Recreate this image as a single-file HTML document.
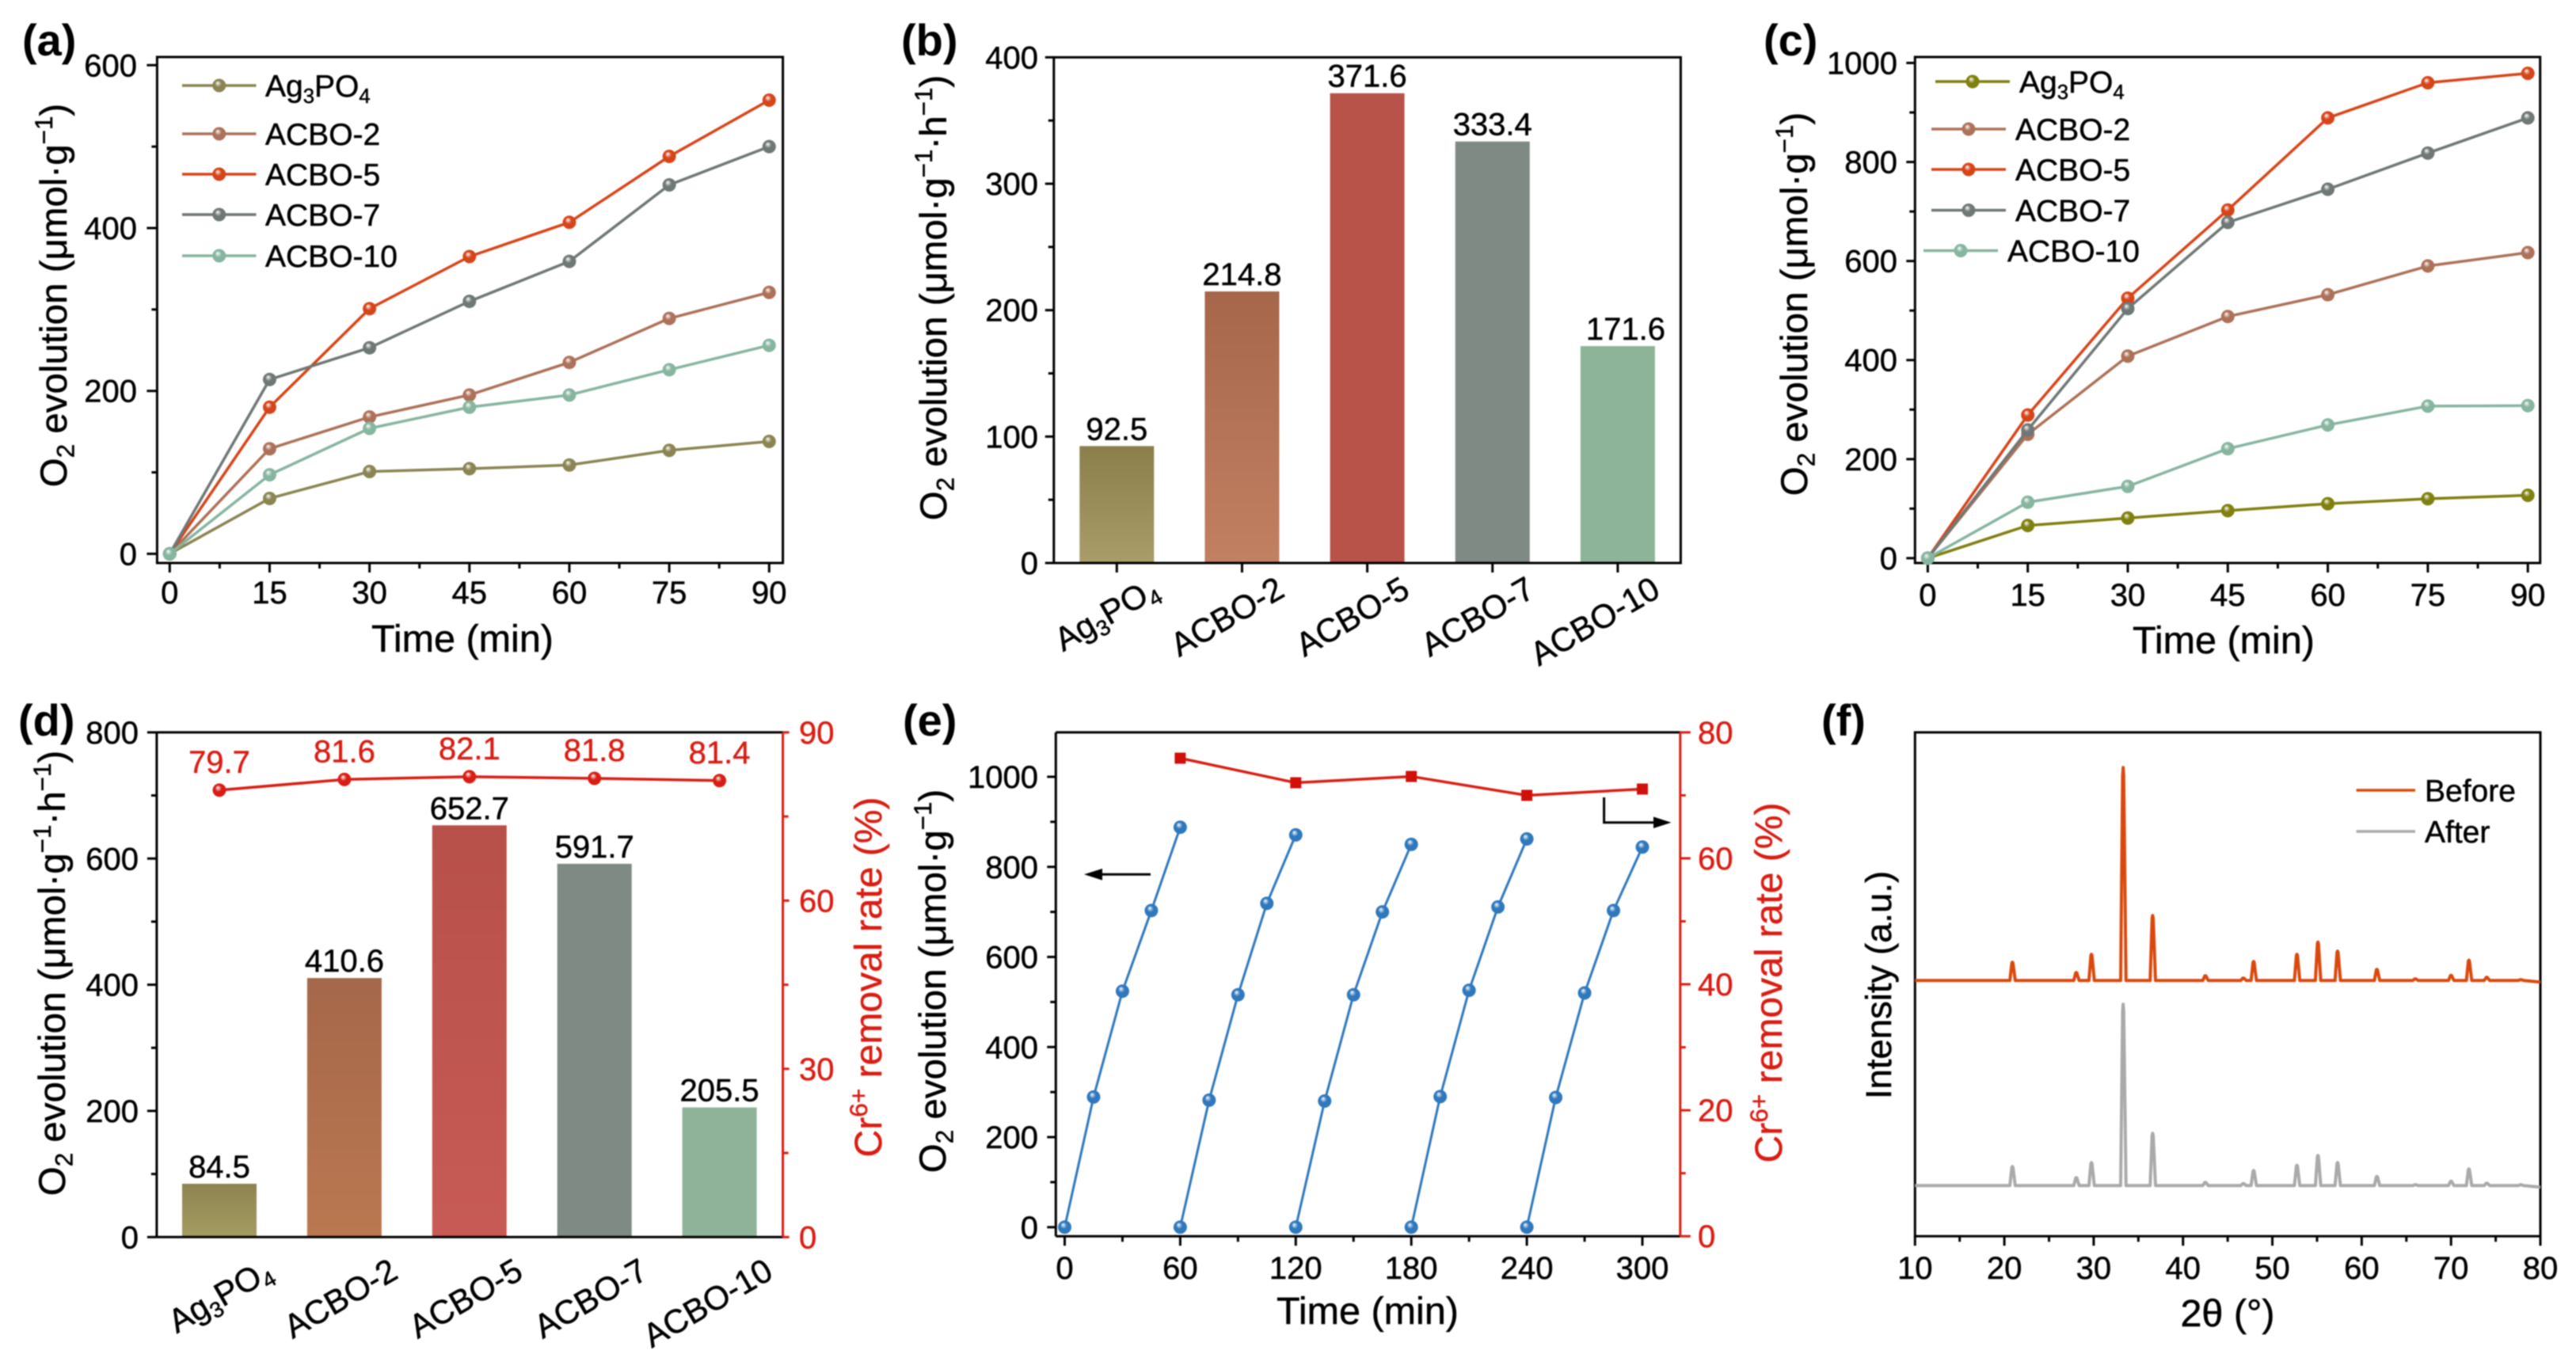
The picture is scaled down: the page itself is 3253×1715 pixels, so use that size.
<!DOCTYPE html>
<html lang="en">
<head>
<meta charset="utf-8">
<title>O2 evolution and Cr6+ removal charts</title>
<style>
html,body{margin:0;padding:0;background:#fff;}
svg{display:block;font-family:"Liberation Sans",Arial,sans-serif;filter:blur(0.7px);}
</style>
</head>
<body>
<svg id="fig" xmlns="http://www.w3.org/2000/svg" width="3253" height="1715" viewBox="0 0 3253 1715">
<rect x="0" y="0" width="3253" height="1715" fill="#ffffff"></rect>
<defs id="defs"></defs>
</svg>
<script>
// ---------- Shared data ----------
const categories = ['Ag3PO4', 'ACBO-2', 'ACBO-5', 'ACBO-7', 'ACBO-10'];
const timeMin = [0, 15, 30, 45, 60, 75, 90];

// Panel (a)
const aAg = [0, 68, 101, 104.5, 109, 127, 138];
const aB2 = [0, 129, 168, 195, 235, 289, 321];
const aB5 = [0, 180, 301, 365, 407, 488, 557];
const aB7 = [0, 214, 253, 310, 359, 453, 500];
const aB10 = [0, 97, 154, 180, 195, 226, 256];
const aYMajor = [0, 200, 400, 600];
const aYMinor = [100, 300, 500];
const timeMajor = [0, 15, 30, 45, 60, 75, 90];
const timeMinor = [7.5, 22.5, 37.5, 52.5, 67.5, 82.5];

// Panel (b)
const bValues = [92.5, 214.8, 371.6, 333.4, 171.6];
const bYMajor = [0, 100, 200, 300, 400];
const bYMinor = [50, 150, 250, 350];

// Panel (c)
const cAg = [0, 66, 81, 96, 110, 120, 127];
const cB2 = [0, 250, 408, 488, 532, 590, 617];
const cB5 = [0, 289, 525, 703, 889, 960, 979];
const cB7 = [0, 259, 504, 678, 745, 818, 889];
const cB10 = [0, 113, 145, 221, 269, 307, 308];
const cYMajor = [0, 200, 400, 600, 800, 1000];
const cYMinor = [100, 300, 500, 700, 900];

// Panel (d)
const dValues = [84.5, 410.6, 652.7, 591.7, 205.5];
const dRemoval = [79.7, 81.6, 82.1, 81.8, 81.4];
const dYMajor = [0, 200, 400, 600, 800];
const dYMinor = [100, 300, 500, 700];
const dRMajor = [0, 30, 60, 90];
const dRMinor = [15, 45, 75];

// Panel (e)
const eCycleTimes = [0, 15, 30, 45, 60];
const eCycleStarts = [0, 60, 120, 180, 240];
const eCycle1 = [0, 289, 524, 703, 888];
const eCycle2 = [0, 282, 516, 719, 871];
const eCycle3 = [0, 280, 516, 700, 850];
const eCycle4 = [0, 290, 526, 711, 862];
const eCycle5 = [0, 288, 520, 703, 844];
const eRemovalTimes = [60, 120, 180, 240, 300];
const eRemoval = [75.9, 72, 73, 70, 71];
const eYMajor = [0, 200, 400, 600, 800, 1000];
const eYMinor = [100, 300, 500, 700, 900];
const eRMajor = [0, 20, 40, 60, 80];
const eRMinor = [10, 30, 50, 70];
const eXMajor = [0, 60, 120, 180, 240, 300];
const eXMinor = [30, 90, 150, 210, 270];

// Panel (f)
const xrdPeaks = [20.9, 28.05, 29.75, 33.3, 36.6, 42.5, 46.75, 47.9, 52.75, 55.1, 57.3, 61.7, 66, 70, 72, 74, 77.8];
const xrdBeforeHeights = [23, 10, 33, 269, 82, 6, 3, 24, 33, 48.5, 37, 14, 2, 6.5, 25.6, 4, 1];
const xrdAfterHeights = [24, 10, 29, 229, 66, 4, 2.5, 19, 25.6, 38, 29, 11.5, 1, 5.5, 21, 3, 1];
const xrdBeforeBase = 323;
const xrdAfterBase = 64;
const fXMajor = [10, 20, 30, 40, 50, 60, 70, 80];
const fXMinor = [15, 25, 35, 45, 55, 65, 75];

// ---------- Helpers ----------
const NS = 'http://www.w3.org/2000/svg';
const svg = document.getElementById('fig');
const defs = document.getElementById('defs');

function mk(tag, attrs, name, parent) {
  const el = document.createElementNS(NS, tag);
  for (const k in attrs) el.setAttribute(k, attrs[k]);
  
  
  (parent || svg).appendChild(el);
  return el;
}
function linear(d0, d1, r0, r1) {
  return function (v) { return r0 + (v - d0) * (r1 - r0) / (d1 - d0); };
}
function rich(parts, attrs, name, parent) {
  const fs = attrs['font-size'];
  attrs.stroke = attrs.fill;
  attrs['stroke-width'] = 0.5;
  const t = mk('text', attrs, name, parent);
  let offset = 0;
  parts.forEach(function (p) {
    const s = document.createElementNS(NS, 'tspan');
    let target = 0;
    if (Array.isArray(p)) {
      s.textContent = p[0];
      s.setAttribute('font-size', fs * 0.66);
      target = p[1] === 'sub' ? fs * 0.2 : -fs * 0.38;
    } else {
      s.textContent = p;
    }
    s.setAttribute('dy', target - offset);
    offset = target;
    t.appendChild(s);
  });
  return t;
}
function chem(s) {
  return s === 'Ag3PO4' ? ['Ag', ['3', 'sub'], 'PO', ['4', 'sub']] : [s];
}
let gradCount = 0;
function sphereGrad(color) {
  const id = 'sph' + (gradCount++);
  const g = mk('radialGradient', { id: id, cx: '0.5', cy: '0.5', r: '0.6', fx: '0.38', fy: '0.3' }, 'marker-gradient', defs);
  mk('stop', { offset: '0', 'stop-color': '#ffffff', 'stop-opacity': '0.9' }, 'gradient-stop', g);
  mk('stop', { offset: '0.4', 'stop-color': color }, 'gradient-stop', g);
  mk('stop', { offset: '1', 'stop-color': color }, 'gradient-stop', g);
  return 'url(#' + id + ')';
}
function barGrad(top, bottom) {
  const id = 'bar' + (gradCount++);
  const g = mk('linearGradient', { id: id, x1: '0', y1: '0', x2: '0', y2: '1' }, 'bar-gradient', defs);
  mk('stop', { offset: '0', 'stop-color': top }, 'gradient-stop', g);
  mk('stop', { offset: '1', 'stop-color': bottom }, 'gradient-stop', g);
  return 'url(#' + id + ')';
}
function line(x1, y1, x2, y2, color, w, name, parent) {
  return mk('line', { x1: x1, y1: y1, x2: x2, y2: y2, stroke: color, 'stroke-width': w }, name, parent);
}
function label(txt, x, y, anchor, size, color, name, parent) {
  const t = mk('text', { x: x, y: y, 'text-anchor': anchor, 'font-size': size, fill: color, stroke: color, 'stroke-width': 0.5 }, name, parent);
  t.textContent = txt;
  return t;
}
function title(parts, x, y, rotated, color, name, parent, size) {
  const s = size || 47.5;
  const attrs = { x: x, y: y, 'text-anchor': 'middle', 'font-size': s, fill: color };
  if (rotated) attrs.transform = 'rotate(-90 ' + x + ' ' + y + ')';
  return rich(parts, attrs, name, parent);
}
function yTicks(scale, major, minor, xEdge, dir, len, labelX, color, g, side) {
  major.forEach(function (v) {
    line(xEdge, scale(v), xEdge + dir * len, scale(v), color, 3, side + '-major-tick', g);
    label(String(v), labelX, scale(v) + 14, dir < 0 ? 'end' : 'start', 40, color, side + '-tick-label', g);
  });
  minor.forEach(function (v) {
    line(xEdge, scale(v), xEdge + dir * 7, scale(v), color, 3, side + '-minor-tick', g);
  });
}
function xTicks(scale, major, minor, yEdge, labelY, g) {
  major.forEach(function (v) {
    line(scale(v), yEdge, scale(v), yEdge + 12, '#000', 3, 'x-major-tick', g);
    label(String(v), scale(v), labelY, 'middle', 40, '#000', 'x-tick-label', g);
  });
  minor.forEach(function (v) {
    line(scale(v), yEdge, scale(v), yEdge + 7, '#000', 3, 'x-minor-tick', g);
  });
}
function frame(x0, x1, y0, y1, g) {
  mk('rect', { x: x0, y: y0, width: x1 - x0, height: y1 - y0, fill: 'none', stroke: '#000', 'stroke-width': 3 }, 'plot-frame', g);
}
function series(xs, ys, sx, sy, color, name, g, w, r) {
  const pts = xs.map(function (x, i) { return sx(x) + ',' + sy(ys[i]); }).join(' ');
  mk('polyline', { points: pts, fill: 'none', stroke: color, 'stroke-width': w || 3.5, 'stroke-linejoin': 'round' }, name + '-line', g);
  const fill = sphereGrad(color);
  xs.forEach(function (x, i) {
    mk('circle', { cx: sx(x), cy: sy(ys[i]), r: r || 8.5, fill: fill }, name + '-point', g);
  });
}
function legendEntry(x0, x1, y, textX, parts, color, name, g, marker) {
  line(x0, y, x1, y, color, 3.5, name + '-legend-line', g);
  if (marker) mk('circle', { cx: (x0 + x1) / 2, cy: y, r: 8.5, fill: sphereGrad(color) }, name + '-legend-marker', g);
  rich(parts, { x: textX, y: y + 14, 'font-size': 39, fill: '#000' }, name + '-legend-label', g);
}
function panelLabel(txt, x, y) {
  const t = mk('text', { x: x, y: y, 'font-size': 56, 'font-weight': 'bold', fill: '#000' }, 'panel-label-' + txt.charAt(1), svg);
  t.textContent = txt;
}
function bars(values, center, width, sy, yBase, tops, bottoms, labelLift, g, lastLabelShift) {
  values.forEach(function (v, i) {
    const y = sy(v);
    mk('rect', { x: center(i) - width / 2, y: y, width: width, height: yBase - y, fill: barGrad(tops[i], bottoms[i]) }, 'bar-' + categories[i].toLowerCase(), g);
    const shift = i === values.length - 1 ? lastLabelShift : 0;
    label(v.toFixed(1), center(i) + shift, y - labelLift, 'middle', 40, '#000', 'bar-value-label', g);
  });
}
const O2H = ['O', ['2', 'sub'], ' evolution (\u03bcmol\u00b7g', ['\u22121', 'sup'], ')'];
const O2R = ['O', ['2', 'sub'], ' evolution (\u03bcmol\u00b7g', ['\u22121', 'sup'], '\u00b7h', ['\u22121', 'sup'], ')'];
const CR = ['Cr', ['6+', 'sup'], ' removal rate (%)'];
const RED = '#d81e14';

// ---------- Panel (a) ----------
(function () {
  const g = mk('g', {}, 'panel-a');
  const sx = linear(0, 90, 214.3, 971.3), sy = linear(0, 600, 699.4, 82.3);
  frame(198.4, 988.6, 72, 711, g);
  yTicks(sy, aYMajor, aYMinor, 198.4, -1, 13, 173, '#000', g, 'y');
  xTicks(sx, timeMajor, timeMinor, 711, 762, g);
  title(O2H, 84, 373, true, '#000', 'y-axis-title', g);
  title(['Time (min)'], 584, 823, false, '#000', 'x-axis-title', g, 48.5);
  const cols = ['#8a8553', '#ad7159', '#d6451a', '#6f7876', '#86b5a0'];
  series(timeMin, aAg, sx, sy, cols[0], 'ag3po4', g);
  series(timeMin, aB2, sx, sy, cols[1], 'acbo-2', g);
  series(timeMin, aB5, sx, sy, cols[2], 'acbo-5', g);
  series(timeMin, aB7, sx, sy, cols[3], 'acbo-7', g);
  series(timeMin, aB10, sx, sy, cols[4], 'acbo-10', g);
  const ly = [108, 169, 220, 271, 323];
  categories.forEach(function (c, i) {
    legendEntry(230, 323.5, ly[i], 335, chem(c), cols[i], c.toLowerCase(), g, true);
  });
})();
panelLabel('(a)', 28, 70);

// ---------- Panel (b) ----------
(function () {
  const g = mk('g', {}, 'panel-b');
  const sy = linear(0, 400, 711, 72.4);
  const center = function (i) { return 1410.3 + i * 158.15; };
  bars(bValues, center, 94, sy, 711,
    ['#8a7f4b', '#a5664a', '#b8534a', '#7f8a84', '#8db498'],
    ['#a89d68', '#c28062', '#b8534a', '#7f8a84', '#8db498'], 8, g, 10);
  frame(1330.8, 2122.4, 72.4, 711, g);
  yTicks(sy, bYMajor, bYMinor, 1330.8, -1, 11, 1311, '#000', g, 'y');
  categories.forEach(function (c, i) {
    line(center(i), 711, center(i), 723, '#000', 3, 'x-major-tick', g);
    const x = center(i) + 56, y = 752;
    rich(chem(c), { x: x, y: y, 'text-anchor': 'end', 'font-size': 42, fill: '#000', transform: 'rotate(-30 ' + x + ' ' + y + ')' }, 'x-tick-label', g);
  });
  title(O2R, 1195, 376, true, '#000', 'y-axis-title', g);
})();
panelLabel('(b)', 1138, 70);

// ---------- Panel (c) ----------
(function () {
  const g = mk('g', {}, 'panel-c');
  const sx = linear(0, 90, 2434.4, 3192.2), sy = linear(0, 1000, 704.9, 79.5);
  frame(2418.3, 3207.7, 72, 711, g);
  yTicks(sy, cYMajor, cYMinor, 2418.3, -1, 11, 2396, '#000', g, 'y');
  xTicks(sx, timeMajor, timeMinor, 711, 765, g);
  title(O2H, 2282, 384, true, '#000', 'y-axis-title', g);
  title(['Time (min)'], 2808, 825, false, '#000', 'x-axis-title', g, 48.5);
  const cols = ['#80800f', '#ad7159', '#d6451a', '#6f7876', '#86b5a0'];
  series(timeMin, cAg, sx, sy, cols[0], 'ag3po4', g);
  series(timeMin, cB2, sx, sy, cols[1], 'acbo-2', g);
  series(timeMin, cB5, sx, sy, cols[2], 'acbo-5', g);
  series(timeMin, cB7, sx, sy, cols[3], 'acbo-7', g);
  series(timeMin, cB10, sx, sy, cols[4], 'acbo-10', g);
  const ly = [103, 163, 214, 265.5, 316.5];
  const lx = [2491, 2486, 2486, 2486, 2476];
  categories.forEach(function (c, i) {
    legendEntry(lx[i] - 47, lx[i] + 47, ly[i], lx[i] + 59, chem(c), cols[i], c.toLowerCase(), g, true);
  });
})();
panelLabel('(c)', 2227, 70);

// ---------- Panel (d) ----------
(function () {
  const g = mk('g', {}, 'panel-d');
  const sy = linear(0, 800, 1562.3, 924.9), sr = linear(0, 90, 1562.3, 924.9);
  const center = function (i) { return 277 + i * 157.9; };
  const x0 = 197.9, x1 = 988.6;
  bars(dValues, center, 94, sy, 1562.3,
    ['#8c8350', '#a5674a', '#b75049', '#7f8a84', '#8fb398'],
    ['#a59c62', '#ba7850', '#c75a55', '#7f8a84', '#8fb398'], 8, g, 0);
  line(x0, 924.9, x1, 924.9, '#000', 3, 'top-axis', g);
  line(x0, 1562.3, x1, 1562.3, '#000', 3, 'bottom-axis', g);
  line(x0, 924.9, x0, 1562.3, '#000', 3, 'left-axis', g);
  line(x1, 924.9, x1, 1562.3, RED, 3, 'right-axis', g);
  yTicks(sy, dYMajor, dYMinor, x0, -1, 12, 175, '#000', g, 'y');
  yTicks(sr, dRMajor, dRMinor, x1, 1, 8, 1009, RED, g, 'right-y');
  categories.forEach(function (c, i) {
    const x = center(i) + 70, y = 1613;
    rich(chem(c), { x: x, y: y, 'text-anchor': 'end', 'font-size': 42, fill: '#000', transform: 'rotate(-30 ' + x + ' ' + y + ')' }, 'x-tick-label', g);
  });
  const idx = [0, 1, 2, 3, 4];
  series(idx, dRemoval, center, sr, RED, 'cr-removal', g);
  dRemoval.forEach(function (v, i) {
    label(v.toFixed(1), center(i), sr(v) - 22, 'middle', 40, RED, 'removal-value-label', g);
  });
  title(O2R, 82, 1229, true, '#000', 'y-axis-title', g);
  title(CR, 1113, 1234, true, RED, 'right-y-axis-title', g, 48);
})();
panelLabel('(d)', 23, 929);

// ---------- Panel (e) ----------
(function () {
  const g = mk('g', {}, 'panel-e');
  const sx = linear(0, 300, 1344.5, 2074), sy = linear(0, 1000, 1549.8, 981), sr = linear(0, 80, 1561.2, 924.9);
  const x0 = 1333.3, x1 = 2121.8;
  line(x0, 924.9, x1, 924.9, '#000', 3, 'top-axis', g);
  line(x0, 1561.2, x1, 1561.2, '#000', 3, 'bottom-axis', g);
  line(x0, 924.9, x0, 1561.2, '#000', 3, 'left-axis', g);
  line(x1, 924.9, x1, 1561.2, RED, 3, 'right-axis', g);
  yTicks(sy, eYMajor, eYMinor, x0, -1, 11, 1311, '#000', g, 'y');
  yTicks(sr, eRMajor, eRMinor, x1, 1, 13, 2144, RED, g, 'right-y');
  xTicks(sx, eXMajor, eXMinor, 1561.2, 1615, g);
  title(O2H, 1194, 1239, true, '#000', 'y-axis-title', g);
  title(CR, 2250, 1241, true, RED, 'right-y-axis-title', g, 48);
  title(['Time (min)'], 1727, 1672, false, '#000', 'x-axis-title', g, 48.5);
  const blue = '#2f78bd';
  [eCycle1, eCycle2, eCycle3, eCycle4, eCycle5].forEach(function (cycle, c) {
    const xs = eCycleTimes.map(function (t) { return t + eCycleStarts[c]; });
    series(xs, cycle, sx, sy, blue, 'cycle-' + (c + 1), g, 3);
  });
  const pts = eRemovalTimes.map(function (t, i) { return sx(t) + ',' + sr(eRemoval[i]); }).join(' ');
  mk('polyline', { points: pts, fill: 'none', stroke: RED, 'stroke-width': 3.5 }, 'cr-removal-line', g);
  eRemovalTimes.forEach(function (t, i) {
    mk('rect', { x: sx(t) - 7, y: sr(eRemoval[i]) - 7, width: 14, height: 14, fill: '#d0100a' }, 'cr-removal-point', g);
  });
  line(1453, 1104.3, 1380, 1104.3, '#000', 3, 'left-arrow-shaft', g);
  mk('polygon', { points: '1369,1104.3 1392,1097 1392,1111.6', fill: '#000' }, 'left-arrow-head', g);
  mk('polyline', { points: '2025.6,1007 2025.6,1038.8 2098,1038.8', fill: 'none', stroke: '#000', 'stroke-width': 3 }, 'right-arrow-shaft', g);
  mk('polygon', { points: '2110.5,1038.8 2088,1031.5 2088,1046', fill: '#000' }, 'right-arrow-head', g);
})();
panelLabel('(e)', 1140, 929);

// ---------- Panel (f) ----------
(function () {
  const g = mk('g', {}, 'panel-f');
  const sx = linear(10, 80, 2418.3, 3208), sy = linear(0, 636.3, 1561.2, 924.9);
  frame(2418.3, 3208, 924.9, 1561.2, g);
  xTicks(sx, fXMajor, fXMinor, 1561.2, 1615, g);
  function trace(base, heights, color, name) {
    const pts = [sx(10) + ',' + sy(base)];
    xrdPeaks.forEach(function (p, i) {
      pts.push(sx(p - 0.28) + ',' + sy(base));
      pts.push(sx(p - 0.06) + ',' + sy(base + heights[i] * 0.96));
      pts.push(sx(p) + ',' + sy(base + heights[i]));
      pts.push(sx(p + 0.06) + ',' + sy(base + heights[i] * 0.96));
      pts.push(sx(p + 0.32) + ',' + sy(base));
    });
    pts.push(sx(80) + ',' + sy(base - 2));
    mk('polyline', { points: pts.join(' '), fill: 'none', stroke: color, 'stroke-width': 4, 'stroke-linejoin': 'round' }, name, g);
  }
  trace(xrdBeforeBase, xrdBeforeHeights, '#d9490f', 'xrd-before-trace');
  trace(xrdAfterBase, xrdAfterHeights, '#aaaaaa', 'xrd-after-trace');
  title(['Intensity (a.u.)'], 2388, 1244, true, '#000', 'y-axis-title', g, 45.5);
  title(['2\u03b8 (\u00b0)'], 2813, 1675, false, '#000', 'x-axis-title', g, 48.5);
  legendEntry(2975.6, 3050, 998, 3062, ['Before'], '#d9490f', 'before', g, false);
  legendEntry(2975.6, 3050, 1050, 3062, ['After'], '#aaaaaa', 'after', g, false);
})();
panelLabel('(f)', 2300, 929);
</script>
</body>
</html>
